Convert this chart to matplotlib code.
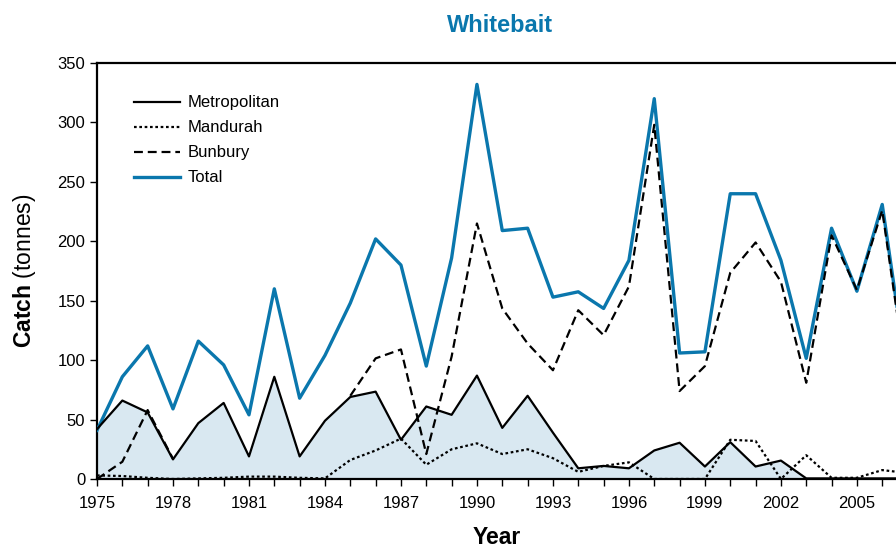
import numpy as np
import matplotlib
matplotlib.use('Agg')
import matplotlib.pyplot as plt
from matplotlib.ticker import MultipleLocator

plt.rcParams['font.family'] = ['Liberation Sans', 'DejaVu Sans']
plt.rcParams['mathtext.fontset'] = 'custom'
plt.rcParams['mathtext.bf'] = 'Liberation Sans:bold'
plt.rcParams['mathtext.rm'] = 'Liberation Sans'

years = np.arange(1975, 2008)
metro = [42, 66, 56, 16.5, 47, 64, 19, 86, 19, 49, 69, 73.5, 33, 61, 54, 87, 43, 70, 39, 9,
         11, 9, 24, 30.5, 10.5, 31, 10.5, 15.5, 0.5, 0.5, 0.5, 0.5, 0.5]
mandurah = [3, 2.5, 1, 0, 0.5, 1, 2, 2, 1, 0.5, 16, 24, 34, 12, 25, 30, 21, 25, 17.5, 6,
            11, 14, 0, 0, 0, 33, 32, 0, 20, 1, 1, 7.5, 5]
bunbury = [0, 14.5, 58, 17, np.nan, np.nan, np.nan, np.nan, np.nan, np.nan, 70, 101.5, 109, 21,
           103, 215, 143.5, 114, 91.5, 142, 121, 162, 298, 74, 95, 173.5, 199, 166, 81, 205,
           159, 226, 78]
total = [41, 86, 112, 59, 116, 96, 54, 160, 68, 104, 148, 202, 180, 95, 186, 332, 209, 211,
         153, 157.5, 143.5, 184, 320, 106, 107, 240, 240, 184, 101.5, 211, 158, 231, 84]

blue = '#0a77ad'
fig = plt.figure(figsize=(8.96, 5.51), dpi=100)
ax = fig.add_axes([97/896, 1-479/551, 1-97/896, (479-63)/551])

ax.fill_between(years, metro, 0, color='#d9e8f1', lw=0, zorder=1)
ax.plot(years, total, color=blue, lw=2.4, label='Total', zorder=3)
ax.plot(years, metro, color='black', lw=1.6, label='Metropolitan', zorder=4)
ax.plot(years, mandurah, color='black', lw=1.6, linestyle=(0, (1.2, 1.2)), label='Mandurah', zorder=4)
ax.plot(years, bunbury, color='black', lw=1.6, linestyle=(0, (4, 2.2)), label='Bunbury', zorder=5)

ax.set_xlim(1975, 1975 + (896-97)/25.33)
ax.set_ylim(0, 350)
ax.set_xticks(np.arange(1975, 2008, 3))
ax.xaxis.set_minor_locator(MultipleLocator(1))
ax.yaxis.set_major_locator(MultipleLocator(50))
ax.tick_params(axis='both', which='both', direction='out', length=5, width=1, labelsize=12, colors='black')
ax.tick_params(axis='x', pad=7)
for s in ['left', 'bottom', 'top']:
    ax.spines[s].set_linewidth(1.6)
ax.spines['right'].set_visible(False)

ax.set_xlabel('Year', fontsize=16.5, fontweight='bold', labelpad=11)
ax.set_ylabel(r'$\bf{Catch}$ (tonnes)', fontsize=16.5, labelpad=14)
ax.set_title('Whitebait', fontsize=17, fontweight='bold', color=blue, pad=22, x=0.505)

h, l = ax.get_legend_handles_labels()
order = [1, 2, 3, 0]
ax.legend([h[i] for i in order], [l[i] for i in order], loc='upper left',
          bbox_to_anchor=(0.046, 0.922), frameon=False, fontsize=12, handlelength=2.75,
          labelspacing=0.6, borderaxespad=0, borderpad=0, handletextpad=0.5)

fig.savefig('out.png', dpi=100)
